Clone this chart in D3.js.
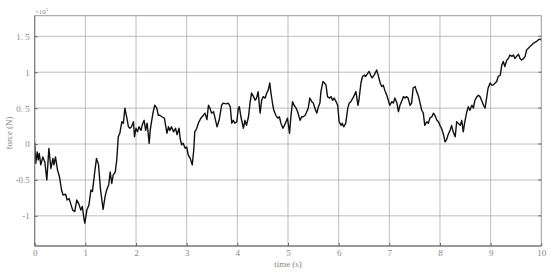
<!DOCTYPE html>
<html>
<head>
<meta charset="utf-8">
<script src="https://cdn.jsdelivr.net/npm/d3@7"></script>
<style>
  body { margin: 0; background: #fff; }
  svg { display: block; }
  text { font-family: "Liberation Serif", "DejaVu Serif", serif; fill: #888; }
</style>
</head>
<body>
<div id="chart"></div>
<script>
// time (s) and force (x10^5 N)
var time = [0.00,0.02,0.05,0.07,0.09,0.12,0.16,0.20,0.24,0.28,0.32,0.36,0.38,0.41,0.45,0.49,0.53,0.56,0.61,0.64,
  0.68,0.71,0.75,0.79,0.83,0.87,0.91,0.94,0.97,0.99,1.03,1.07,1.11,1.14,1.19,1.22,1.26,1.30,1.35,1.39,
  1.42,1.46,1.49,1.52,1.55,1.59,1.62,1.65,1.68,1.72,1.75,1.78,1.82,1.85,1.88,1.91,1.95,1.97,2.00,2.03,
  2.06,2.10,2.12,2.16,2.19,2.22,2.26,2.28,2.31,2.34,2.37,2.41,2.44,2.47,2.51,2.56,2.61,2.64,2.67,2.70,
  2.74,2.78,2.81,2.85,2.87,2.90,2.93,2.97,3.00,3.03,3.07,3.11,3.14,3.16,3.20,3.23,3.28,3.33,3.36,3.40,
  3.43,3.46,3.49,3.53,3.56,3.60,3.64,3.69,3.72,3.78,3.82,3.86,3.89,3.92,3.95,3.99,4.02,4.04,4.07,4.12,
  4.15,4.18,4.22,4.25,4.28,4.32,4.35,4.38,4.41,4.45,4.48,4.51,4.55,4.58,4.61,4.64,4.66,4.70,4.72,4.76,
  4.80,4.83,4.86,4.90,4.93,4.96,4.99,5.03,5.06,5.09,5.12,5.16,5.19,5.24,5.27,5.30,5.34,5.37,5.40,5.43,
  5.47,5.50,5.53,5.57,5.60,5.63,5.65,5.69,5.72,5.75,5.78,5.82,5.85,5.88,5.91,5.95,5.98,6.01,6.05,6.07,
  6.10,6.14,6.18,6.21,6.24,6.28,6.31,6.34,6.36,6.38,6.40,6.44,6.47,6.51,6.53,6.57,6.60,6.63,6.66,6.70,
  6.75,6.78,6.82,6.85,6.88,6.91,6.95,6.98,7.01,7.05,7.08,7.11,7.15,7.18,7.21,7.24,7.28,7.31,7.34,7.37,
  7.41,7.44,7.47,7.51,7.54,7.57,7.60,7.64,7.67,7.70,7.74,7.77,7.80,7.84,7.87,7.90,7.94,7.97,8.00,8.03,
  8.07,8.10,8.13,8.16,8.20,8.23,8.26,8.30,8.33,8.36,8.40,8.43,8.46,8.49,8.53,8.56,8.59,8.63,8.66,8.69,
  8.73,8.76,8.79,8.82,8.86,8.89,8.92,8.95,8.99,9.02,9.05,9.09,9.12,9.15,9.19,9.22,9.25,9.28,9.32,9.35,
  9.38,9.42,9.45,9.48,9.51,9.55,9.58,9.61,9.65,9.68,9.71,9.74,9.78,9.81,9.84,9.88,9.91,9.94,9.97,10.00];
var force = [0.02,-0.27,-0.11,-0.22,-0.13,-0.29,-0.18,-0.25,-0.50,-0.06,-0.34,-0.20,-0.29,-0.18,-0.36,-0.46,-0.64,-0.71,-0.70,-0.78,
  -0.76,-0.83,-0.92,-0.94,-0.78,-0.83,-0.92,-0.87,-1.03,-1.10,-0.92,-0.85,-0.64,-0.66,-0.36,-0.20,-0.29,-0.64,-0.91,-0.73,
  -0.64,-0.57,-0.39,-0.55,-0.43,-0.39,-0.22,0.10,0.15,0.31,0.29,0.50,0.36,0.24,0.22,0.24,0.31,0.10,0.22,0.17,
  0.24,0.19,0.26,0.33,0.19,0.29,0.01,0.19,0.33,0.45,0.54,0.50,0.40,0.40,0.38,0.36,0.15,0.24,0.19,0.24,
  0.17,0.22,0.13,0.22,0.08,-0.01,0.01,-0.06,-0.04,-0.15,-0.20,-0.29,-0.08,0.17,0.22,0.29,0.36,0.40,0.43,0.34,
  0.54,0.50,0.43,0.45,0.36,0.24,0.33,0.54,0.57,0.56,0.57,0.52,0.29,0.33,0.29,0.31,0.50,0.52,0.38,0.22,
  0.33,0.26,0.38,0.57,0.71,0.66,0.61,0.64,0.73,0.43,0.61,0.66,0.64,0.71,0.75,0.85,0.73,0.54,0.47,0.40,
  0.36,0.38,0.29,0.22,0.26,0.31,0.36,0.15,0.40,0.59,0.54,0.50,0.45,0.33,0.38,0.38,0.40,0.45,0.50,0.64,
  0.59,0.57,0.50,0.43,0.52,0.57,0.73,0.87,0.85,0.82,0.66,0.64,0.66,0.61,0.64,0.59,0.54,0.31,0.26,0.29,
  0.24,0.29,0.50,0.57,0.59,0.64,0.68,0.73,0.64,0.54,0.61,0.85,0.94,0.96,0.94,0.98,1.01,0.96,0.92,0.96,
  1.03,0.96,0.85,0.80,0.82,0.75,0.68,0.61,0.54,0.59,0.57,0.64,0.57,0.45,0.54,0.59,0.66,0.64,0.66,0.64,
  0.54,0.57,0.78,0.80,0.73,0.68,0.59,0.47,0.43,0.26,0.31,0.29,0.36,0.38,0.43,0.40,0.33,0.31,0.26,0.22,
  0.13,0.03,0.06,0.13,0.19,0.26,0.17,0.10,0.31,0.29,0.26,0.33,0.17,0.31,0.45,0.52,0.47,0.54,0.50,0.61,
  0.66,0.68,0.66,0.61,0.54,0.50,0.64,0.78,0.85,0.82,0.82,0.85,0.87,0.94,0.96,1.10,1.15,1.08,1.17,1.19,
  1.24,1.22,1.24,1.19,1.22,1.25,1.19,1.17,1.19,1.22,1.31,1.33,1.36,1.38,1.40,1.42,1.43,1.45,1.46,1.45];

var xTicks = [0,1,2,3,4,5,6,7,8,9,10];
var yTicks = [-1,-0.5,0,0.5,1,1.5];
var yTickLabels = ["-1","-0.5","0","0. 5","1","1. 5"];

var W = 550, H = 273;
var padL = 34.7, padR = 541.3, padT = 15.7, padB = 246;

var svg = d3.select('#chart').append('svg').attr('width', W).attr('height', H);

var x = d3.scaleLinear().domain([0, 10]).range([padL, padR]);
var y = d3.scaleLinear().domain([-1.42, 1.787]).range([padB, padT]);

// grid
svg.append('g').selectAll('line').data(xTicks.slice(1, -1)).enter().append('line')
  .attr('x1', function(d) { return x(d); }).attr('x2', function(d) { return x(d); })
  .attr('y1', padT).attr('y2', padB)
  .attr('stroke', '#bdbdbd').attr('stroke-width', 1);
svg.append('g').selectAll('line').data(yTicks).enter().append('line')
  .attr('y1', function(d) { return y(d); }).attr('y2', function(d) { return y(d); })
  .attr('x1', padL).attr('x2', padR)
  .attr('stroke', '#bdbdbd').attr('stroke-width', 1);

// data line
var line = d3.line()
  .x(function(d, i) { return x(time[i]); })
  .y(function(d) { return y(d); });
svg.append('path').datum(force)
  .attr('d', line)
  .attr('fill', 'none')
  .attr('stroke', '#111')
  .attr('stroke-width', 1.4)
  .attr('stroke-linejoin', 'round');

// box
svg.append('rect').attr('x', padL).attr('y', padT)
  .attr('width', padR - padL).attr('height', padB - padT)
  .attr('fill', 'none').attr('stroke', '#9a9a9a');
svg.append('line').attr('x1', padL).attr('x2', padR).attr('y1', padB).attr('y2', padB)
  .attr('stroke', '#666').attr('stroke-width', 1.2);
svg.append('line').attr('x1', padL).attr('x2', padL).attr('y1', padT).attr('y2', padB)
  .attr('stroke', '#777').attr('stroke-width', 1);

// axes (ticks inward)
var xAxis = d3.axisBottom(x).tickValues(xTicks).tickSize(-3).tickPadding(4);
var gx = svg.append('g').attr('transform', 'translate(0,' + padB + ')').call(xAxis);
gx.select('.domain').remove();
gx.selectAll('line').attr('stroke', '#666');
gx.selectAll('text').style('fill', '#888').style('font-size', '9px')
  .style('font-family', '"Liberation Serif", serif');

var yAxis = d3.axisLeft(y).tickValues(yTicks).tickSize(-3).tickPadding(5)
  .tickFormat(function(d, i) { return yTickLabels[i]; });
var gy = svg.append('g').attr('transform', 'translate(' + padL + ',0)').call(yAxis);
gy.select('.domain').remove();
gy.selectAll('line').attr('stroke', '#666');
gy.selectAll('text').style('fill', '#888').style('font-size', '9px')
  .style('font-family', '"Liberation Serif", serif');

// right-side ticks
svg.append('g').selectAll('line').data(yTicks).enter().append('line')
  .attr('x1', padR).attr('x2', padR - 3)
  .attr('y1', function(d) { return y(d); }).attr('y2', function(d) { return y(d); })
  .attr('stroke', '#666');

// labels
svg.append('text').attr('x', (padL + padR) / 2).attr('y', 267)
  .attr('text-anchor', 'middle').style('font-size', '9px').style('fill', '#888').text('time (s)');
svg.append('text').attr('transform', 'translate(12,133) rotate(-90)')
  .attr('text-anchor', 'middle').style('font-size', '9px').style('fill', '#888').text('force (N)');
var mult = svg.append('text').attr('x', padL).attr('y', 14).style('font-size', '7px').style('fill', '#888');
mult.append('tspan').text('\u00d710');
mult.append('tspan').attr('dy', -3).style('font-size', '5px').text('5');
</script>
</body>
</html>
